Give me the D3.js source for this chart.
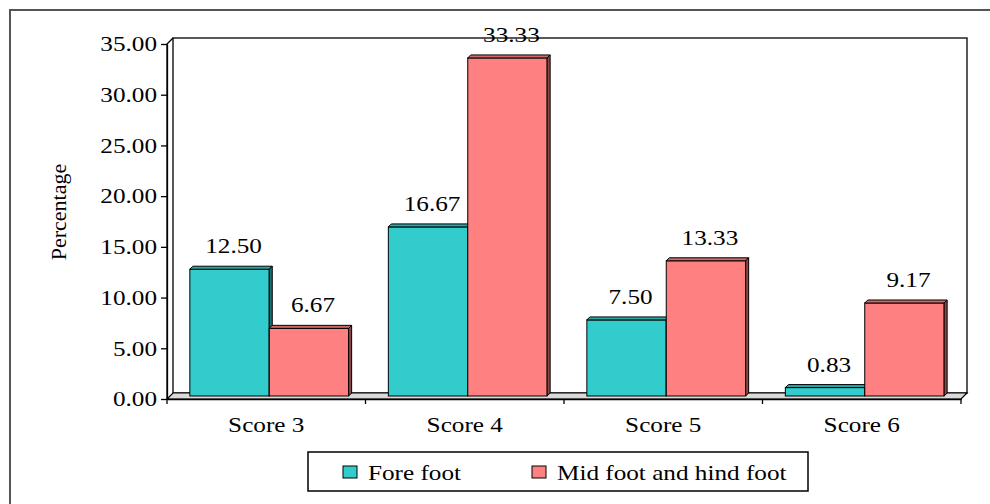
<!DOCTYPE html>
<html>
<head>
<meta charset="utf-8">
<script src="https://cdn.jsdelivr.net/npm/d3@7"></script>
<style>
  html, body { margin: 0; padding: 0; background: #fff; }
  svg { display: block; }
  text { font-family: "Liberation Serif", "Times New Roman", serif; fill: #000; }
</style>
</head>
<body>
<svg id="chart" width="990" height="504"></svg>
<script>
// Data
const categories = ["Score 3", "Score 4", "Score 5", "Score 6"];
const seriesNames = ["Fore foot", "Mid foot and hind foot"];
const foreFoot = [12.50, 16.67, 7.50, 0.83];
const midHindFoot = [6.67, 33.33, 13.33, 9.17];
const yTicks = [0, 5, 10, 15, 20, 25, 30, 35];
const yTitle = "Percentage";

const seriesValues = [foreFoot, midHindFoot];
const colors = ["#33CCCC", "#FF8080"];
const topColors = ["#2AA8A8", "#D06868"];
const sideColors = ["#1C7070", "#8C4545"];

const FONT = '"Liberation Serif", "Times New Roman", serif';
const FONT_SIZE = 21;
const STRETCH = 1.2;      // wide serif lettering

const svg = d3.select("#chart");

// Outer frame (runs off the right and bottom edges)
svg.append("rect")
  .attr("x", 10).attr("y", 10)
  .attr("width", 1000).attr("height", 520)
  .attr("fill", "none").attr("stroke", "#555").attr("stroke-width", 2);

// Plot geometry
const plotLeft = 167, plotRight = 961, plotBottom = 399, plotTop = 44;
const depth = 6;          // depth of the back wall
const barShift = 3;       // bars sit halfway into the floor
const barDepth = 3;

const x0 = d3.scaleBand().domain(categories).range([plotLeft, plotRight])
  .paddingInner(0.2).paddingOuter(0.1);
const x1 = d3.scaleBand().domain(d3.range(seriesNames.length))
  .range([0, x0.bandwidth()]);
const y = d3.scaleLinear().domain([0, 35]).range([plotBottom, plotTop]);

// Places a horizontally stretched text label at (x, y)
function label(parent, x, yPos, str, anchor) {
  return parent.append("text")
    .attr("transform", `translate(${x},${yPos}) scale(${STRETCH},1)`)
    .attr("text-anchor", anchor || "start")
    .style("font-family", FONT)
    .style("font-size", FONT_SIZE + "px")
    .text(str);
}

// Back wall
svg.append("rect")
  .attr("x", plotLeft + depth).attr("y", plotTop - depth)
  .attr("width", plotRight - plotLeft).attr("height", plotBottom - plotTop)
  .attr("fill", "#fff").attr("stroke", "#000").attr("stroke-width", 1.3);

// Floor
svg.append("polygon")
  .attr("points", [
    [plotLeft, plotBottom], [plotRight, plotBottom],
    [plotRight + depth, plotBottom - depth], [plotLeft + depth, plotBottom - depth]
  ].map(p => p.join(",")).join(" "))
  .attr("fill", "#DADADA").attr("stroke", "#000").attr("stroke-width", 1.2);

// Side wall edge connecting the axis to the back wall
svg.append("polyline")
  .attr("points", [[plotLeft, plotBottom], [plotLeft, plotTop], [plotLeft + depth, plotTop - depth]]
    .map(p => p.join(",")).join(" "))
  .attr("fill", "none").attr("stroke", "#000").attr("stroke-width", 1.3);

// Y axis
const yAxis = svg.append("g")
  .attr("transform", `translate(${plotLeft},0)`)
  .call(d3.axisLeft(y).tickValues(yTicks).tickFormat(d3.format(".2f"))
    .tickSize(6).tickPadding(4).tickSizeOuter(0));
yAxis.select(".domain").attr("stroke", "#000").attr("stroke-width", 1.3);
yAxis.selectAll(".tick line").attr("stroke", "#000").attr("stroke-width", 1.3);
yAxis.selectAll(".tick text")
  .style("font-family", FONT)
  .style("font-size", FONT_SIZE + "px").attr("fill", "#000")
  .attr("x", -10 / STRETCH)
  .attr("transform", `scale(${STRETCH},1)`);

// X axis: category labels centred, tick marks on the band boundaries
const xAxis = svg.append("g")
  .attr("transform", `translate(0,${plotBottom})`)
  .call(d3.axisBottom(x0).tickSize(0).tickPadding(18).tickSizeOuter(0));
xAxis.select(".domain").attr("stroke", "#000").attr("stroke-width", 1.3);
xAxis.selectAll(".tick text")
  .style("font-family", FONT)
  .style("font-size", FONT_SIZE + "px").attr("fill", "#000")
  .attr("transform", `scale(${STRETCH},1)`);
const boundaries = d3.range(categories.length + 1).map(i => plotLeft + i * x0.step());
svg.append("g").selectAll("line").data(boundaries).join("line")
  .attr("x1", d => d).attr("x2", d => d)
  .attr("y1", plotBottom).attr("y2", plotBottom + 5)
  .attr("stroke", "#000").attr("stroke-width", 1.3);

// Bars (front face, top face, side face)
const bars = [];
categories.forEach((c, i) => {
  seriesValues.forEach((vals, s) => {
    bars.push({ cat: c, s, v: vals[i] });
  });
});

const barG = svg.append("g");
bars.forEach(d => {
  const bx = x0(d.cat) + x1(d.s) + barShift;
  const w = x1.bandwidth();
  const yt = y(d.v) - barShift;
  const yb = y(0) - barShift;
  const g = barG.append("g");
  g.append("rect")
    .attr("x", bx).attr("y", yt).attr("width", w).attr("height", yb - yt)
    .attr("fill", colors[d.s]).attr("stroke", "#000").attr("stroke-width", 1);
  g.append("polygon")
    .attr("points", [[bx, yt], [bx + barDepth, yt - barDepth],
      [bx + w + barDepth, yt - barDepth], [bx + w, yt]].map(p => p.join(",")).join(" "))
    .attr("fill", topColors[d.s]).attr("stroke", "#000").attr("stroke-width", 1);
  g.append("polygon")
    .attr("points", [[bx + w, yt], [bx + w + barDepth, yt - barDepth],
      [bx + w + barDepth, yb - barDepth], [bx + w, yb]].map(p => p.join(",")).join(" "))
    .attr("fill", sideColors[d.s]).attr("stroke", "#000").attr("stroke-width", 1);
});

// Value labels
const valueG = svg.append("g");
bars.forEach(d => {
  label(valueG,
    x0(d.cat) + x1(d.s) + x1.bandwidth() / 2 + barShift + 4,
    y(d.v) - barShift - barDepth - 13,
    d.v.toFixed(2), "middle");
});

// Y axis title
svg.append("text")
  .attr("transform", "translate(66,212) rotate(-90)")
  .attr("text-anchor", "middle")
  .style("font-family", FONT)
  .style("font-size", "22px")
  .text(yTitle);

// Legend
const legend = svg.append("g");
legend.append("rect")
  .attr("x", 308).attr("y", 452).attr("width", 500).attr("height", 39)
  .attr("fill", "#fff").attr("stroke", "#000").attr("stroke-width", 1.5);
const legendX = [343, 532];
seriesNames.forEach((name, s) => {
  legend.append("rect")
    .attr("x", legendX[s]).attr("y", 466).attr("width", 14).attr("height", 12)
    .attr("fill", colors[s]).attr("stroke", "#000").attr("stroke-width", 1);
  label(legend, legendX[s] + 25, 480, name, "start");
});
</script>
</body>
</html>
